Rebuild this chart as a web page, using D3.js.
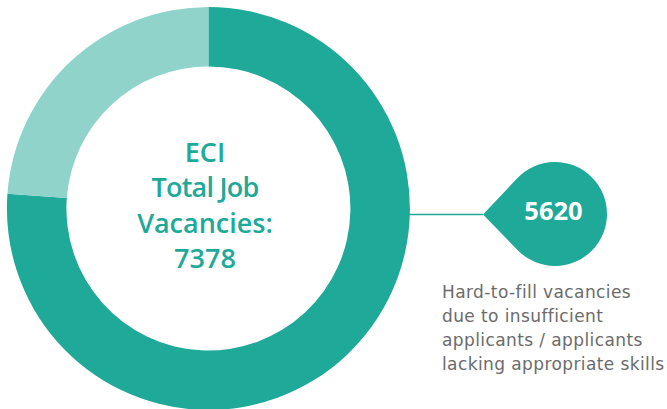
<!DOCTYPE html>
<html><head><meta charset="utf-8">
<script src="https://cdn.jsdelivr.net/npm/d3@7"></script>
<style>html,body{margin:0;padding:0;background:#fff;}svg{display:block;}</style>
</head><body>
<svg id="chart" width="667" height="409"></svg>
<script>
const categories = ["Hard-to-fill vacancies", "Other vacancies"];
const values = [5620, 1758];
const totalLabel = ["ECI", "Total Job", "Vacancies:", "7378"];
const calloutValue = "5620";
const calloutLines = ["Hard-to-fill vacancies", "due to insufficient", "applicants / applicants", "lacking appropriate skills"];
const colors = ["#1fa999", "#8fd3ca"];

const svg = d3.select("#chart");
const cx = 208.4, cy = 208.5, rOut = 201.5, rIn = 142;
const font = "'Open Sans', sans-serif";

const pie = d3.pie().sort(null).startAngle(0).endAngle(2 * Math.PI);
const arc = d3.arc().innerRadius(rIn).outerRadius(rOut);
const color = d3.scaleOrdinal().domain(categories).range(colors);

const g = svg.append("g").attr("transform", `translate(${cx},${cy})`);
g.selectAll("path").data(pie(values)).join("path")
  .attr("d", arc).attr("fill", (d, i) => color(categories[i]));

// center text
const ct = svg.append("text").attr("text-anchor", "middle")
  .attr("font-family", font).attr("font-weight", 600).attr("font-size", 27)
  .attr("fill", "#1fa999");
const baselines = [161.7, 196.7, 233, 268];
totalLabel.forEach((t, i) => ct.append("tspan").attr("x", 205).attr("y", baselines[i])
  .attr("letter-spacing", i === 1 ? -0.8 : 0).text(t));

// callout
const tip = [483, 214.5], cc = [555, 214], cr = 52;
svg.append("line").attr("x1", cx + rOut - 1).attr("x2", tip[0]).attr("y1", 214.5).attr("y2", 214.5)
  .attr("stroke", "#1fa999").attr("stroke-width", 1.6);
const dx = tip[0] - cc[0], dy = tip[1] - cc[1];
const d = Math.hypot(dx, dy), base = Math.atan2(dy, dx), off = Math.acos(cr / d);
const t1 = [cc[0] + cr * Math.cos(base - off), cc[1] + cr * Math.sin(base - off)];
const p = d3.path();
p.moveTo(tip[0], tip[1]);
p.lineTo(t1[0], t1[1]);
p.arc(cc[0], cc[1], cr, base - off, base + off - 2 * Math.PI, true);
p.lineTo(tip[0], tip[1]);
p.closePath();
svg.append("path").attr("d", p.toString()).attr("fill", "#1fa999");
svg.append("text").attr("x", 553.5).attr("y", 220).attr("text-anchor", "middle")
  .attr("font-family", font).attr("font-weight", 700).attr("font-size", 25.5)
  .attr("fill", "#fff").text(calloutValue);

const lt = svg.append("text").attr("font-family", "'DejaVu Sans', sans-serif").attr("font-size", 17)
  .attr("letter-spacing", 0.4).attr("fill", "#6b6b6b");
calloutLines.forEach((t, i) => lt.append("tspan").attr("x", 442).attr("y", 298 + i * 24).text(t));
</script>
</body></html>
